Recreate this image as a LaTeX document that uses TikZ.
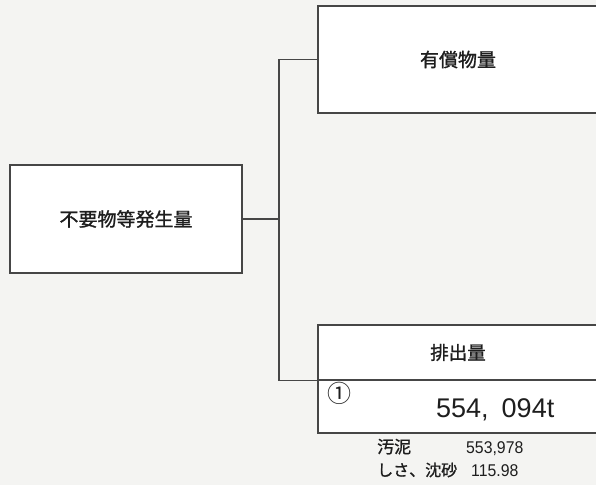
\documentclass[tikz,border=0pt]{standalone}
\usepackage{fontspec}
\setmainfont{Liberation Sans}
\newfontfamily\jp[FakeBold=1.2]{Noto Sans CJK JP}
\newfontfamily\jpl{Noto Sans CJK JP}
\definecolor{bgc}{RGB}{244,244,242}
\definecolor{linec}{RGB}{70,70,70}
\definecolor{txtc}{RGB}{30,30,30}
\tikzset{
  boxst/.style={draw=linec, line width=1.3pt, fill=white, inner sep=0pt, text=txtc},
  conn/.style={draw=linec, line width=1.3pt},
  lbl/.style={inner sep=0pt, text=txtc},
}
\begin{document}
\begin{tikzpicture}[x=1pt,y=-1pt]
\useasboundingbox (0,0) rectangle (596,485);
\fill[bgc] (0,0) rectangle (596,485);
\begin{scope}
\clip (0,0) rectangle (596,485);
% left box
\node[boxst, minimum width=232pt, minimum height=108pt, font=\jp\fontsize{19}{19}\selectfont] (src) at (126,219) {不要物等発生量};
% top box
\node[boxst, minimum width=280pt, minimum height=107pt, font=\jp\fontsize{19}{19}\selectfont] (yuusho) at (458,59.5) {有償物量};
% bottom box upper part
\node[boxst, minimum width=280pt, minimum height=55pt, font=\jp\fontsize{18.5}{18.5}\selectfont] (haishutsu) at (458,352.5) {排出量};
% bottom box lower part
\node[boxst, minimum width=280pt, minimum height=53pt] (val) at (458,406.5) {};
\end{scope}
% connectors
\coordinate (j) at (279,219);
\draw[conn] (src.east) -- (j);
\draw[conn] (yuusho.west) -| (j) |- (haishutsu.south west);
% value contents
\node[lbl, font=\jpl\fontsize{24}{24}\selectfont] (circ) at (339,393) {①};
\node[lbl, anchor=base west, font=\fontsize{27}{27}\selectfont] (amount) at (436,417) {554,\hspace{13pt}094t};
% breakdown
\node[lbl, anchor=base west, font=\jp\fontsize{17}{17}\selectfont] (odei) at (377,453) {汚泥};
\node[lbl, anchor=base west, font=\fontsize{17}{17}\selectfont] (odeiv) at (466,453) {\scalebox{0.93}[1]{553,978}};
\node[lbl, anchor=base west, font=\jp\fontsize{16}{16}\selectfont] (shisa) at (377,476) {しさ、沈砂};
\node[lbl, anchor=base west, font=\fontsize{17}{17}\selectfont] (shisav) at (471,476) {\scalebox{0.93}[1]{115.98}};
\end{tikzpicture}
\end{document}
